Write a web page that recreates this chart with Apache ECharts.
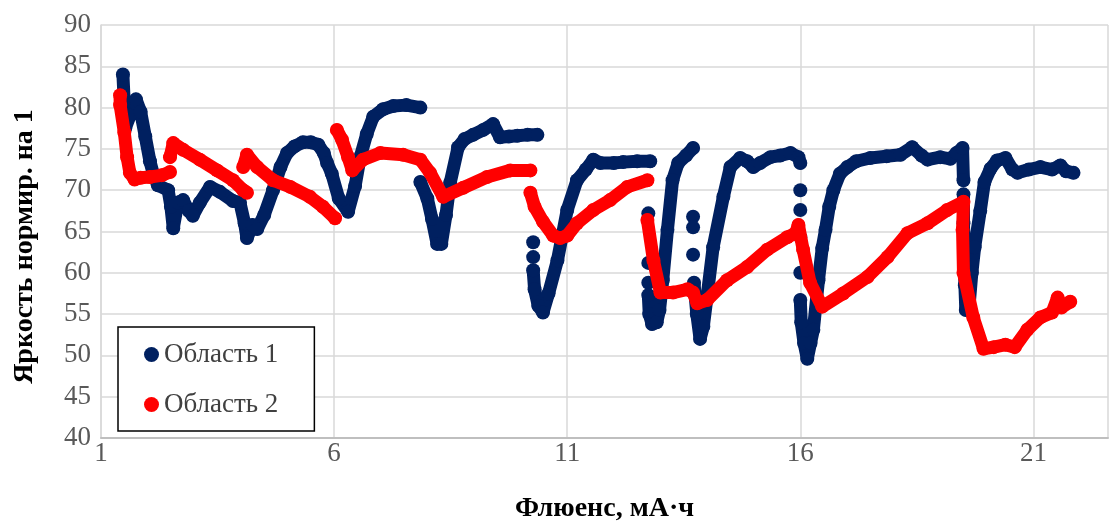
<!DOCTYPE html>
<html lang="ru">
<head>
<meta charset="UTF-8">
<title>Яркость</title>
<script src="https://cdn.jsdelivr.net/npm/echarts@6/dist/echarts.min.js"></script>
<style>
  body { margin: 0; background: #fff; }
  #main { width: 1111px; height: 524px; }
</style>
</head>
<body>
<div id="main"></div>
<script>
// x = флюенс (мА·ч), y = яркость; null = разрыв в данных
var area1 = [
  [1.47,84.0],[1.50,80.5],[1.52,77.5],[1.62,79.0],[1.75,81.0],[1.85,79.5],[1.95,76.5],[2.05,73.5],
  [2.12,72.0],[2.22,70.6],[2.44,70.0],[2.50,68.0],[2.55,65.4],[2.65,68.5],[2.76,68.8],[2.88,67.5],
  [2.97,66.9],[3.12,68.5],[3.34,70.4],[3.55,69.8],[3.83,68.7],[3.98,68.5],[4.08,66.0],[4.13,64.2],
  [4.25,65.8],[4.35,65.3],[4.50,67.0],[4.69,70.0],[4.85,72.8],[4.99,74.5],[5.15,75.3],[5.33,75.8],
  [5.50,75.8],[5.66,75.5],[5.78,74.5],[5.85,73.3],[5.95,72.0],[6.10,69.0],[6.30,67.4],[6.45,70.5],
  [6.56,74.0],[6.70,76.8],[6.84,78.9],[7.05,79.8],[7.27,80.2],[7.55,80.3],[7.85,80.0],
  null,
  [7.85,71.0],[8.00,69.0],[8.10,66.5],[8.21,63.5],[8.30,63.5],[8.40,67.0],[8.49,70.9],[8.66,75.2],
  [8.80,76.2],[8.98,76.7],[9.20,77.3],[9.41,78.0],[9.56,76.4],[9.75,76.5],[9.93,76.6],[10.15,76.7],
  [10.36,76.7],
  null, [10.27,63.7], null, [10.27,61.9], null,
  [10.27,60.3],[10.30,58.0],[10.38,56.0],[10.48,55.2],[10.60,57.5],[10.79,61.5],[11.00,67.6],
  [11.21,71.2],[11.40,72.5],[11.56,73.7],[11.71,73.3],[12.00,73.3],[12.20,73.4],[12.50,73.5],
  [12.78,73.5],
  null, [12.74,67.2], null, [12.74,61.2], null, [12.74,58.8], null,
  [12.74,57.3],[12.76,55.0],[12.82,53.8],[12.92,54.0],[12.98,55.5],[13.05,59.1],[13.15,65.2],
  [13.26,71.2],[13.38,73.3],[13.55,74.2],[13.70,75.1],
  null, [13.70,66.8], null, [13.70,65.5], null, [13.70,62.2], null,
  [13.72,58.8],[13.78,55.0],[13.85,52.0],[13.92,53.5],[14.00,57.1],[14.13,63.1],[14.35,69.2],
  [14.50,72.8],[14.71,73.9],[14.86,73.5],[14.99,72.8],[15.14,73.3],[15.36,74.0],[15.57,74.2],
  [15.79,74.5],[15.96,74.0],[16.00,73.3],
  null, [16.00,70.0], null, [16.00,67.6], null, [16.00,64.3], null, [16.00,60.0], null,
  [16.00,56.7],[16.02,54.0],[16.08,51.5],[16.15,49.6],[16.22,51.5],[16.28,53.1],[16.39,59.1],
  [16.47,63.0],[16.54,65.2],[16.62,68.0],[16.71,70.0],[16.85,72.0],[17.01,72.8],[17.20,73.5],
  [17.50,73.9],[17.85,74.1],[18.15,74.3],[18.40,75.2],[18.60,74.2],[18.73,73.7],[19.00,74.0],
  [19.22,73.8],[19.35,74.5],[19.48,75.1],[19.50,71.2],
  null,
  [19.50,69.5],[19.50,66.0],[19.52,62.0],[19.53,58.5],[19.55,55.5],[19.62,56.0],[19.68,60.0],
  [19.74,63.1],[19.86,67.5],[19.95,71.0],[20.08,72.6],[20.22,73.6],[20.40,73.9],[20.55,72.5],
  [20.66,72.1],[20.90,72.5],[21.15,72.8],[21.40,72.5],[21.58,73.0],[21.70,72.3],[21.86,72.1]
];

var area2 = [
  [1.41,81.5],[1.41,80.3],[1.50,77.0],[1.56,74.0],[1.62,72.1],[1.72,71.3],[1.85,71.5],[2.05,71.6],
  [2.30,71.8],[2.48,72.2],
  null,
  [2.48,74.0],[2.55,75.7],[2.76,74.9],[3.12,73.7],[3.49,72.4],[3.83,71.2],[4.05,70.0],[4.13,69.7],
  null,
  [4.05,72.8],[4.13,74.3],[4.35,72.8],[4.69,71.2],[5.06,70.4],[5.48,69.2],[5.76,68.0],[6.02,66.6],
  null,
  [6.06,77.3],[6.17,76.1],[6.30,74.0],[6.39,72.4],[6.62,73.7],[6.99,74.5],[7.48,74.3],[7.85,73.7],
  [8.06,72.1],[8.34,69.2],[8.77,70.3],[9.28,71.6],[9.78,72.4],[10.21,72.4],
  null,
  [10.21,69.7],[10.30,68.0],[10.48,66.2],[10.70,64.5],[10.85,64.2],[11.00,64.5],[11.21,66.0],
  [11.56,67.6],[11.92,68.8],[12.29,70.4],[12.72,71.2],
  null,
  [12.72,66.4],[12.85,61.5],[13.00,57.6],[13.27,57.6],[13.58,58.0],[13.70,57.6],[13.79,56.3],
  [14.00,56.7],[14.43,59.1],[14.86,60.7],[15.29,62.8],[15.72,64.3],[15.90,64.8],[15.96,65.8],
  [16.06,62.8],[16.21,58.8],[16.47,55.9],[16.92,57.5],[17.44,59.5],[17.87,61.9],[18.30,64.8],
  [18.73,66.0],[19.15,67.6],[19.50,68.6],[19.48,65.2],[19.50,60.0],[19.71,54.6],[19.93,50.8],
  [20.15,51.0],[20.40,51.3],[20.60,51.0],[20.87,53.1],[21.15,54.6],[21.40,55.2],[21.52,57.0],
  [21.60,55.8],[21.79,56.5]
];

var seriesNames = ['Область 1', 'Область 2'];
var seriesColors = ['#002060', '#ff0000'];

function withGaps(points) {
  return points.map(function (p) { return p === null ? ['-', '-'] : p; });
}

var font = 'Liberation Serif, Times New Roman, serif';
var chart = echarts.init(document.getElementById('main'));

function makeSeries(i, points) {
  return {
    name: seriesNames[i],
    type: 'line',
    data: withGaps(points),
    connectNulls: false,
    symbol: 'circle',
    symbolSize: 14,
    showSymbol: true,
    showAllSymbol: true,
    itemStyle: { color: seriesColors[i] },
    lineStyle: { color: seriesColors[i], width: 13, cap: 'round', join: 'round' },
    emphasis: { disabled: true },
    z: 2 + i
  };
}

chart.setOption({
  animation: false,
  backgroundColor: '#fff',
  grid: { left: 101, right: 3, top: 25, bottom: 86, outerBoundsMode: 'none' },
  legend: {
    orient: 'vertical',
    left: 118,
    top: 327,
    icon: 'circle',
    itemWidth: 15,
    itemHeight: 15,
    itemGap: 23,
    padding: [14, 36, 13, 26],
    borderColor: '#000',
    borderWidth: 1.5,
    backgroundColor: '#fff',
    textStyle: { fontFamily: font, fontSize: 27, color: '#404040' },
    data: seriesNames
  },
  xAxis: {
    type: 'value',
    min: 1,
    max: 22.6,
    interval: 5,
    name: 'Флюенс, мА·ч',
    nameLocation: 'middle',
    nameGap: 57,
    nameTextStyle: { fontFamily: font, fontSize: 28, fontWeight: 'bold', color: '#000' },
    axisLine: { show: true, lineStyle: { color: '#bfbfbf', width: 2 } },
    axisTick: { show: false },
    axisLabel: { fontFamily: font, fontSize: 27, color: '#595959', margin: 2, showMaxLabel: false },
    splitLine: { show: true, lineStyle: { color: '#d9d9d9', width: 1.5 } }
  },
  yAxis: {
    type: 'value',
    min: 40,
    max: 90,
    interval: 5,
    name: 'Яркость нормир. на 1',
    nameLocation: 'middle',
    nameGap: 62,
    nameTextStyle: { fontFamily: font, fontSize: 28, fontWeight: 'bold', color: '#000', padding: [0, 30, 0, 0] },
    axisLine: { show: true, lineStyle: { color: '#d9d9d9', width: 1.5 } },
    axisTick: { show: false },
    axisLabel: { fontFamily: font, fontSize: 27, color: '#595959', margin: 10 },
    splitLine: { show: true, lineStyle: { color: '#d9d9d9', width: 1.5 } }
  },
  series: [makeSeries(0, area1), makeSeries(1, area2)]
});
</script>
</body>
</html>
